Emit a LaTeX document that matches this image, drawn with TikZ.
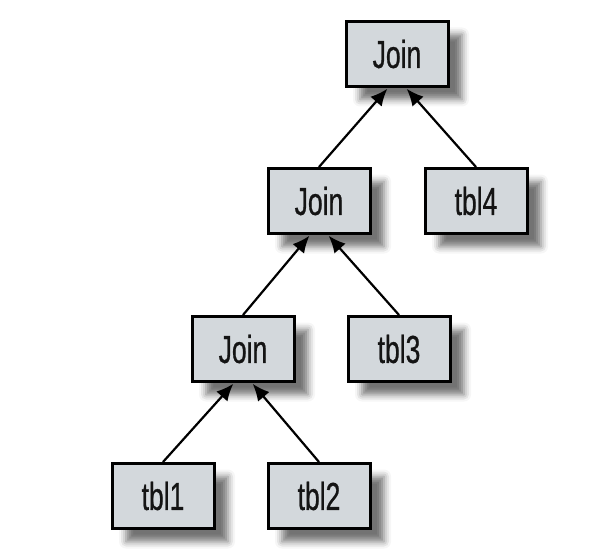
\documentclass[tikz,border=0pt]{standalone}
\usepackage{fontspec}
\setmainfont[FakeStretch=0.68,FakeBold=0.6]{Liberation Sans}
\usetikzlibrary{shadows.blur,arrows.meta}
\definecolor{boxfill}{HTML}{D3D8DC}
\definecolor{txt}{HTML}{141414}
\tikzset{
  tbox/.style={draw=black, line width=3pt, fill=boxfill, minimum width=102pt, minimum height=65pt,
    inner sep=0pt, font=\fontsize{39}{42}\selectfont, text=txt,
    blur shadow={shadow xshift=14pt, shadow yshift=-13pt, shadow blur radius=7pt, shadow opacity=55}},
  link/.style={line width=2.2pt, -{Latex[length=17pt,width=15pt]}, shorten >=1pt}
}
\begin{document}
\begin{tikzpicture}[x=1pt,y=-1pt]
\useasboundingbox (0,0) rectangle (615,556);
\node[tbox] (j1) at (397,54) {Join};
\node[tbox] (j2) at (319,201) {Join};
\node[tbox] (t4) at (476,201) {tbl4};
\node[tbox] (j3) at (243,349) {Join};
\node[tbox] (t3) at (399,349) {tbl3};
\node[tbox] (t1) at (163,496) {tbl1};
\node[tbox] (t2) at (319,496) {tbl2};
\draw[link] (j2.north) -- ([xshift=-9pt]j1.south);
\draw[link] (t4.north) -- ([xshift=9pt]j1.south);
\draw[link] (j3.north) -- ([xshift=-9pt]j2.south);
\draw[link] (t3.north) -- ([xshift=9pt]j2.south);
\draw[link] (t1.north) -- ([xshift=-9pt]j3.south);
\draw[link] (t2.north) -- ([xshift=9pt]j3.south);
\end{tikzpicture}
\end{document}
